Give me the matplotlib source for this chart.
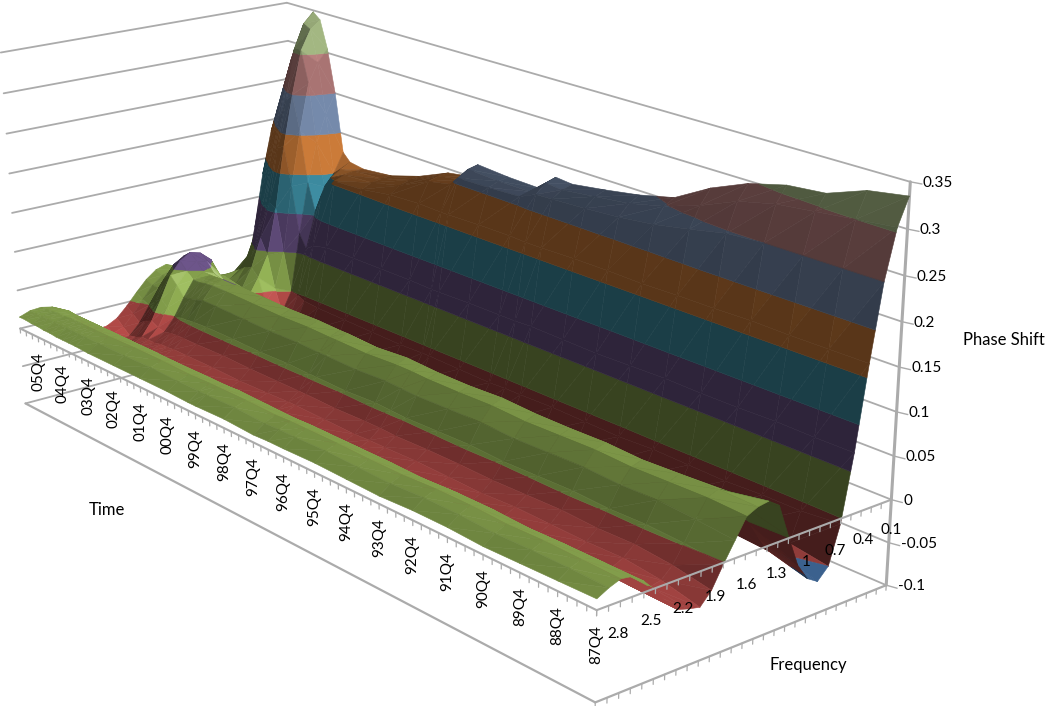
import numpy as np
import matplotlib
matplotlib.use("Agg")
import matplotlib.pyplot as plt
from matplotlib.colors import to_rgb
from mpl_toolkits.mplot3d.art3d import Poly3DCollection

plt.rcParams['font.family'] = ['Lato', 'DejaVu Sans']

W, H = 1047, 706

# time in quarters after 87Q4, frequency
time_labels = ['87Q4', '88Q4', '89Q4', '90Q4', '91Q4', '92Q4', '93Q4', '94Q4', '95Q4', '96Q4',
               '97Q4', '98Q4', '99Q4', '00Q4', '01Q4', '02Q4', '03Q4', '04Q4', '05Q4']
freq_labels = ['0.1', '0.4', '0.7', '1', '1.3', '1.6', '1.9', '2.2', '2.5', '2.8']
z_ticks = [-0.1, -0.05, 0, 0.05, 0.1, 0.15, 0.2, 0.25, 0.3, 0.35]
z_labels = ['-0.1', '-0.05', '0', '0.05', '0.1', '0.15', '0.2', '0.25', '0.3', '0.35']

time_nodes = [0, 4, 8, 12, 16, 20, 24, 28, 32, 36, 38, 40, 44, 48, 49, 52, 56, 60, 64, 66,
              67, 68, 69, 70, 71, 72, 73, 74, 75]
freq_nodes = [0.1, 0.2, 0.3, 0.4, 0.5, 0.6, 0.7, 0.8, 0.9, 1.0, 1.1, 1.2, 1.3, 1.4,
              1.5, 1.6, 1.7, 1.8, 1.9, 2.0, 2.1, 2.2, 2.3, 2.4, 2.5, 2.6, 2.7, 2.8]
phase_shift = [
    [.335, .305, .250, .165, .070, -.006, -.050, -.063, -.055, -.035, .002, .041, .050, .048, .042, .020, -.002, -.026, -.040, -.037, -.033, -.022, -.002, .012, .022, .024, .019, .012],
    [.328, .300, .250, .165, .070, -.010, -.043, -.049, -.043, -.024, -.002, .025, .042, .049, .044, .024, .002, -.018, -.030, -.033, -.031, -.021, -.002, .012, .022, .025, .020, .011],
    [.312, .295, .250, .165, .071, -.010, -.038, -.046, -.040, -.019, -.001, .019, .037, .048, .043, .027, .004, -.014, -.025, -.031, -.030, -.020, -.002, .012, .022, .026, .020, .010],
    [.308, .290, .250, .166, .070, -.012, -.039, -.045, -.038, -.018, -.002, .017, .035, .046, .042, .026, .003, -.015, -.026, -.032, -.031, -.021, -.003, .011, .021, .025, .019, .009],
    [.297, .280, .247, .165, .070, -.011, -.038, -.046, -.040, -.018, .000, .019, .037, .048, .044, .028, .005, -.013, -.025, -.031, -.030, -.020, -.001, .013, .023, .027, .021, .011],
    [.279, .262, .238, .165, .071, -.010, -.037, -.045, -.039, -.019, -.001, .018, .036, .047, .043, .027, .004, -.014, -.024, -.030, -.029, -.019, -.001, .013, .023, .027, .021, .011],
    [.255, .248, .230, .164, .070, -.012, -.038, -.044, -.038, -.018, -.002, .018, .036, .047, .042, .026, .003, -.015, -.026, -.032, -.031, -.021, -.003, .011, .021, .025, .019, .009],
    [.245, .238, .225, .165, .069, -.011, -.037, -.045, -.039, -.017, .000, .019, .037, .049, .044, .028, .005, -.014, -.025, -.031, -.030, -.020, -.002, .012, .021, .025, .020, .010],
    [.238, .233, .222, .165, .070, -.010, -.036, -.044, -.038, -.018, -.001, .018, .036, .047, .043, .027, .004, -.014, -.024, -.030, -.030, -.020, -.002, .012, .022, .026, .021, .011],
    [.232, .228, .220, .164, .071, -.011, -.038, -.045, -.039, -.019, -.001, .017, .035, .047, .043, .026, .003, -.015, -.025, -.031, -.029, -.019, -.002, .012, .022, .026, .020, .010],
    [.234, .230, .219, .164, .070, -.011, -.037, -.045, -.039, -.018, -.001, .018, .036, .048, .044, .027, .004, -.014, -.025, -.031, -.030, -.020, -.002, .012, .022, .026, .020, .010],
    [.214, .213, .210, .165, .070, -.012, -.037, -.044, -.038, -.018, .000, .019, .037, .049, .044, .028, .005, -.014, -.026, -.032, -.031, -.021, -.003, .011, .021, .025, .019, .009],
    [.215, .213, .208, .165, .070, -.011, -.037, -.045, -.039, -.017, -.001, .018, .036, .046, .042, .026, .003, -.015, -.025, -.031, -.030, -.020, -.002, .012, .022, .026, .021, .011],
    [.218, .215, .207, .164, .069, -.010, -.036, -.044, -.037, -.018, -.001, .018, .036, .048, .043, .027, .004, -.014, -.024, -.030, -.029, -.019, -.001, .013, .022, .026, .020, .010],
    [.200, .199, .196, .164, .069, -.010, -.036, -.044, -.037, -.018, -.001, .018, .036, .048, .043, .027, .004, -.014, -.024, -.030, -.030, -.020, -.002, .012, .022, .026, .020, .010],
    [.195, .194, .190, .165, .070, -.011, -.037, -.044, -.038, -.017, .000, .019, .037, .049, .044, .028, .005, -.014, -.025, -.031, -.030, -.020, -.002, .012, .021, .025, .020, .011],
    [.178, .176, .172, .163, .070, -.010, -.036, -.043, -.037, -.016, .001, .019, .037, .048, .043, .027, .004, -.014, -.026, -.032, -.031, -.021, -.003, .011, .022, .026, .021, .011],
    [.166, .165, .163, .157, .070, -.009, -.036, -.043, -.036, -.016, .002, .020, .038, .049, .044, .028, .005, -.013, -.025, -.031, -.030, -.020, -.002, .012, .022, .026, .020, .011],
    [.162, .162, .160, .155, .070, -.008, -.035, -.042, -.035, -.015, .002, .021, .039, .050, .045, .029, .005, -.014, -.025, -.031, -.031, -.021, -.002, .012, .022, .025, .020, .011],
    [.165, .158, .150, .130, .065, -.006, -.034, -.042, -.035, -.014, .003, .022, .039, .050, .045, .029, .004, -.014, -.025, -.031, -.031, -.021, -.002, .012, .022, .025, .020, .012],
    [.175, .150, .135, .105, .058, -.002, -.030, -.040, -.032, -.012, .004, .023, .040, .049, .044, .026, .003, -.014, -.026, -.031, -.030, -.020, -.002, .012, .022, .025, .020, .012],
    [.250, .225, .190, .140, .075, .000, -.025, -.036, -.030, -.016, .004, .024, .040, .048, .042, .024, .002, -.015, -.026, -.031, -.030, -.020, -.002, .012, .022, .025, .020, .012],
    [.305, .290, .265, .205, .135, .050, .004, -.012, -.030, -.030, -.005, .030, .044, .049, .042, .022, -.001, -.017, -.028, -.032, -.030, -.020, -.002, .012, .022, .025, .020, .012],
    [.340, .330, .305, .250, .185, .105, .045, .018, -.004, -.024, .005, .040, .056, .060, .050, .034, .008, -.015, -.028, -.033, -.031, -.021, -.002, .012, .022, .025, .020, .013],
    [.348, .335, .305, .240, .180, .110, .065, .028, .004, -.008, .020, .052, .064, .068, .060, .044, .016, -.010, -.028, -.035, -.032, -.022, -.002, .012, .022, .024, .020, .013],
    [.330, .310, .275, .215, .155, .090, .050, .025, .006, .004, .024, .050, .060, .060, .052, .036, .008, -.014, -.032, -.038, -.034, -.024, -.002, .012, .021, .024, .020, .014],
    [.305, .285, .245, .190, .130, .070, .035, .018, .008, .008, .014, .026, .032, .036, .030, .020, .000, -.020, -.034, -.037, -.033, -.022, -.002, .012, .021, .023, .020, .014],
    [.275, .250, .215, .160, .095, .035, .012, .010, .010, .010, .014, .020, .030, .035, .030, .020, .004, -.012, -.026, -.031, -.029, -.020, .001, .013, .020, .022, .020, .015],
    [.250, .220, .185, .130, .060, .000, -.005, .004, .006, .008, .012, .020, .032, .038, .034, .024, .010, -.005, -.018, -.025, -.026, -.020, -.002, .010, .018, .021, .020, .015],
]

# one colour per 0.05 band from -0.1 upwards
band_colors = ['#4F81BD', '#C0504D', '#9BBB59', '#8064A2', '#4BACC6', '#F79646',
               '#8FA8D0', '#CE8E8C', '#B5CB90']

t_max = 75
f_lo, f_hi = 0.1, 2.8
line_col = '#ABABAB'

# where corners of the box sit in the picture (pixels)
box_world = np.array([
    [t_max, f_hi, -0.1], [t_max, f_hi, 0], [t_max, f_hi, 0.35],
    [0, f_hi, -0.1], [0, f_hi, 0],
    [0, f_lo, -0.1], [0, f_lo, 0], [0, f_lo, 0.35],
    [t_max, f_lo, -0.1], [t_max, f_lo, 0.35],
    [72, f_hi, 0],
])
box_pixels = np.array([
    [24, 403], [19, 329], [3, 53],
    [596, 703], [597, 608],
    [885, 587], [890, 500], [912, 181],
    [300, 330], [284, 3],
    [38, 338],
], dtype=float)


def fit_camera(world, uv):
    rows, rhs = [], []
    for (x, y, z), (u, v) in zip(world, uv):
        rows.append([x, y, z, 1, 0, 0, 0, 0, -u * x, -u * y, -u * z])
        rhs.append(u)
        rows.append([0, 0, 0, 0, x, y, z, 1, -v * x, -v * y, -v * z])
        rhs.append(v)
    # columns have very different sizes
    a = np.array(rows)
    s = np.abs(a).max(axis=0)
    sol = np.linalg.lstsq(a / s, np.array(rhs), rcond=None)[0] / s
    return np.append(sol, 1.0).reshape(3, 4)


def clip_band(tri, lo, hi):
    poly = tri
    for level, keep_above in ((lo, True), (hi, False)):
        out = []
        for i in range(len(poly)):
            a, b = poly[i], poly[(i + 1) % len(poly)]
            ina = a[2] >= level if keep_above else a[2] <= level
            inb = b[2] >= level if keep_above else b[2] <= level
            if ina:
                out.append(a)
            if ina != inb:
                k = (level - a[2]) / (b[2] - a[2])
                out.append(a + k * (b - a))
        poly = out
        if len(poly) < 3:
            return None
    return poly


def shade(tri, base):
    p = tri * np.array([2.4 / t_max, 1.0 / 2.7, 0.5 / 0.45])
    n = np.cross(p[1] - p[0], p[2] - p[0])
    if n[2] < 0:
        n = -n
    n = n / np.linalg.norm(n)
    t_mean, f_mean, z_mean = tri.mean(axis=0)
    behind = f_mean < 1.35
    if behind:
        n = np.array([n[0], abs(n[1]), n[2]])
    b = 0.23 + float(n @ np.array([-0.75, -0.35, 0.60]))
    if behind:
        # everything behind the ridge is dull, except near the peak and where it faces the light
        dull = 0.55 + 0.45 * np.clip(-n[0] / 0.4, 0, 1)
        dull = dull + (1 - dull) * np.clip((t_mean - 62) / 6, 0, 1)
        b *= dull
    if n[0] > -0.2:
        b = min(b, 0.84)
    if z_mean > 0.08:
        b = min(b, 0.82 if z_mean < 0.3 else 0.9)
    if z_mean < -0.045:
        b = 0.75
    if 68.5 < t_mean < 71.5 and 1.1 < f_mean < 1.9 and n[0] < -0.02 and z_mean < 0.05:
        b *= 1.3
    b = max(0.36 + max(0.0, z_mean - 0.2) * 0.8, b)
    base = np.array(base)
    if z_mean > 0.045 and z_mean < 0.08:
        b = min(b, 0.85)
    if b <= 1:
        return tuple(base * b)
    return tuple(np.clip(base + (1 - base) * (b - 1) * 1.5, 0, 1))


fig = plt.figure(figsize=(W / 100, H / 100), dpi=100)
ax = fig.add_axes([0, 0, 1, 1], projection='3d')
ax.set_axis_off()
ax.computed_zorder = False
ax.apply_aspect()

# camera in pixels for placing the texts
cam_px = fit_camera(box_world, box_pixels)


def to_px(t, f, z):
    h = cam_px @ np.array([t, f, z, 1.0])
    return h[0] / h[2], h[1] / h[2]


# same camera in the axes' own 2d coordinates
disp = np.column_stack([box_pixels[:, 0], H - box_pixels[:, 1]])
cam = fit_camera(box_world, ax.transData.inverted().transform(disp))
M = np.array([cam[0], cam[1], [0, 0, 0, -1.0], cam[2]])
ax.get_proj = lambda: M


def line3(ts, fs, zs, lw=1.3, zorder=1):
    ax.plot(ts, fs, zs, color=line_col, lw=lw, zorder=zorder, solid_capstyle='round', clip_on=False)


# walls
for z in z_ticks:
    line3([t_max, t_max], [f_hi, f_lo], [z, z])
    line3([t_max, 0], [f_lo, f_lo], [z, z])
# floor edges and vertical on the right
line3([t_max, 0], [f_hi, f_hi], [-0.1, -0.1], lw=1.6)
line3([0, 0], [f_hi, f_lo], [-0.1, -0.1], lw=1.6)
line3([0, 0], [f_lo, f_lo], [-0.1, 0.35], lw=2.2)
for z in z_ticks:
    line3([0, -0.9], [f_lo, f_lo - 0.02], [z, z], lw=1.0)

# surface cut into 0.05 bands, one collection per cell, far cells first
tn = np.array(time_nodes, dtype=float)
fn = np.array(freq_nodes, dtype=float)
zz = np.array(phase_shift)
edges = [-np.inf, -0.05, 0, 0.05, 0.1, 0.15, 0.2, 0.25, 0.3, np.inf]
order = 0
for i in range(len(tn) - 2, -1, -1):
    for j in range(len(fn) - 1):
        c00 = np.array([tn[i], fn[j], zz[i, j]])
        c10 = np.array([tn[i + 1], fn[j], zz[i + 1, j]])
        c01 = np.array([tn[i], fn[j + 1], zz[i, j + 1]])
        c11 = np.array([tn[i + 1], fn[j + 1], zz[i + 1, j + 1]])
        polys, colors = [], []
        for tri in ([c00, c10, c11], [c00, c11, c01]):
            tri_arr = np.array(tri)
            for b in range(len(band_colors)):
                if tri_arr[:, 2].max() < edges[b] or tri_arr[:, 2].min() > edges[b + 1]:
                    continue
                piece = clip_band(tri, edges[b], edges[b + 1])
                if piece is None:
                    continue
                polys.append(np.array(piece))
                colors.append(shade(tri_arr, to_rgb(band_colors[b])))
        order += 1
        cell = Poly3DCollection(polys, facecolors=colors, edgecolors=colors, linewidths=0.4,
                                zorder=2 + order * 1e-4, clip_on=False)
        ax.add_collection3d(cell, autolim=False)

# axes crossing at zero, drawn over the surface
line3([t_max, 0], [f_hi, f_hi], [0, 0], lw=1.5, zorder=3)
line3([0, 0], [f_hi, f_lo], [0, 0], lw=1.5, zorder=3)
for q in range(t_max + 1):
    line3([q, q], [f_hi, f_hi], [0, -0.006], lw=0.9, zorder=3)
for k in range(28):
    f = f_hi - 0.1 * k
    line3([0, 0], [f, f], [0, -0.006], lw=0.9, zorder=3)
    line3([0, 0], [f, f], [-0.1, -0.106], lw=0.9, zorder=3)


def put_text(x, y, s, size=11, **kw):
    fig.text(x / W, 1 - y / H, s, fontsize=size, color='black', **kw)


for k, lab in enumerate(time_labels):
    x, y = to_px(4 * k, f_hi, 0)
    put_text(x, y + 34, lab, rotation=90, ha='center', va='center')
for lab in freq_labels:
    f = float(lab)
    x, y = to_px(0, f, 0)
    s = (f - f_lo) / (f_hi - f_lo)
    put_text(x + 21 * s, y + 30 - 6 * s, lab, ha='center', va='center')
for z, lab in zip(z_ticks, z_labels):
    x, y = to_px(0, f_lo, z)
    put_text(x + 12, y + 1, lab, ha='left', va='center')

put_text(107, 510, 'Time', size=12, ha='center', va='center')
put_text(808, 665, 'Frequency', size=12, ha='center', va='center')
put_text(1004, 340, 'Phase Shift', size=12, ha='center', va='center')

fig.savefig('out.png', dpi=100)
